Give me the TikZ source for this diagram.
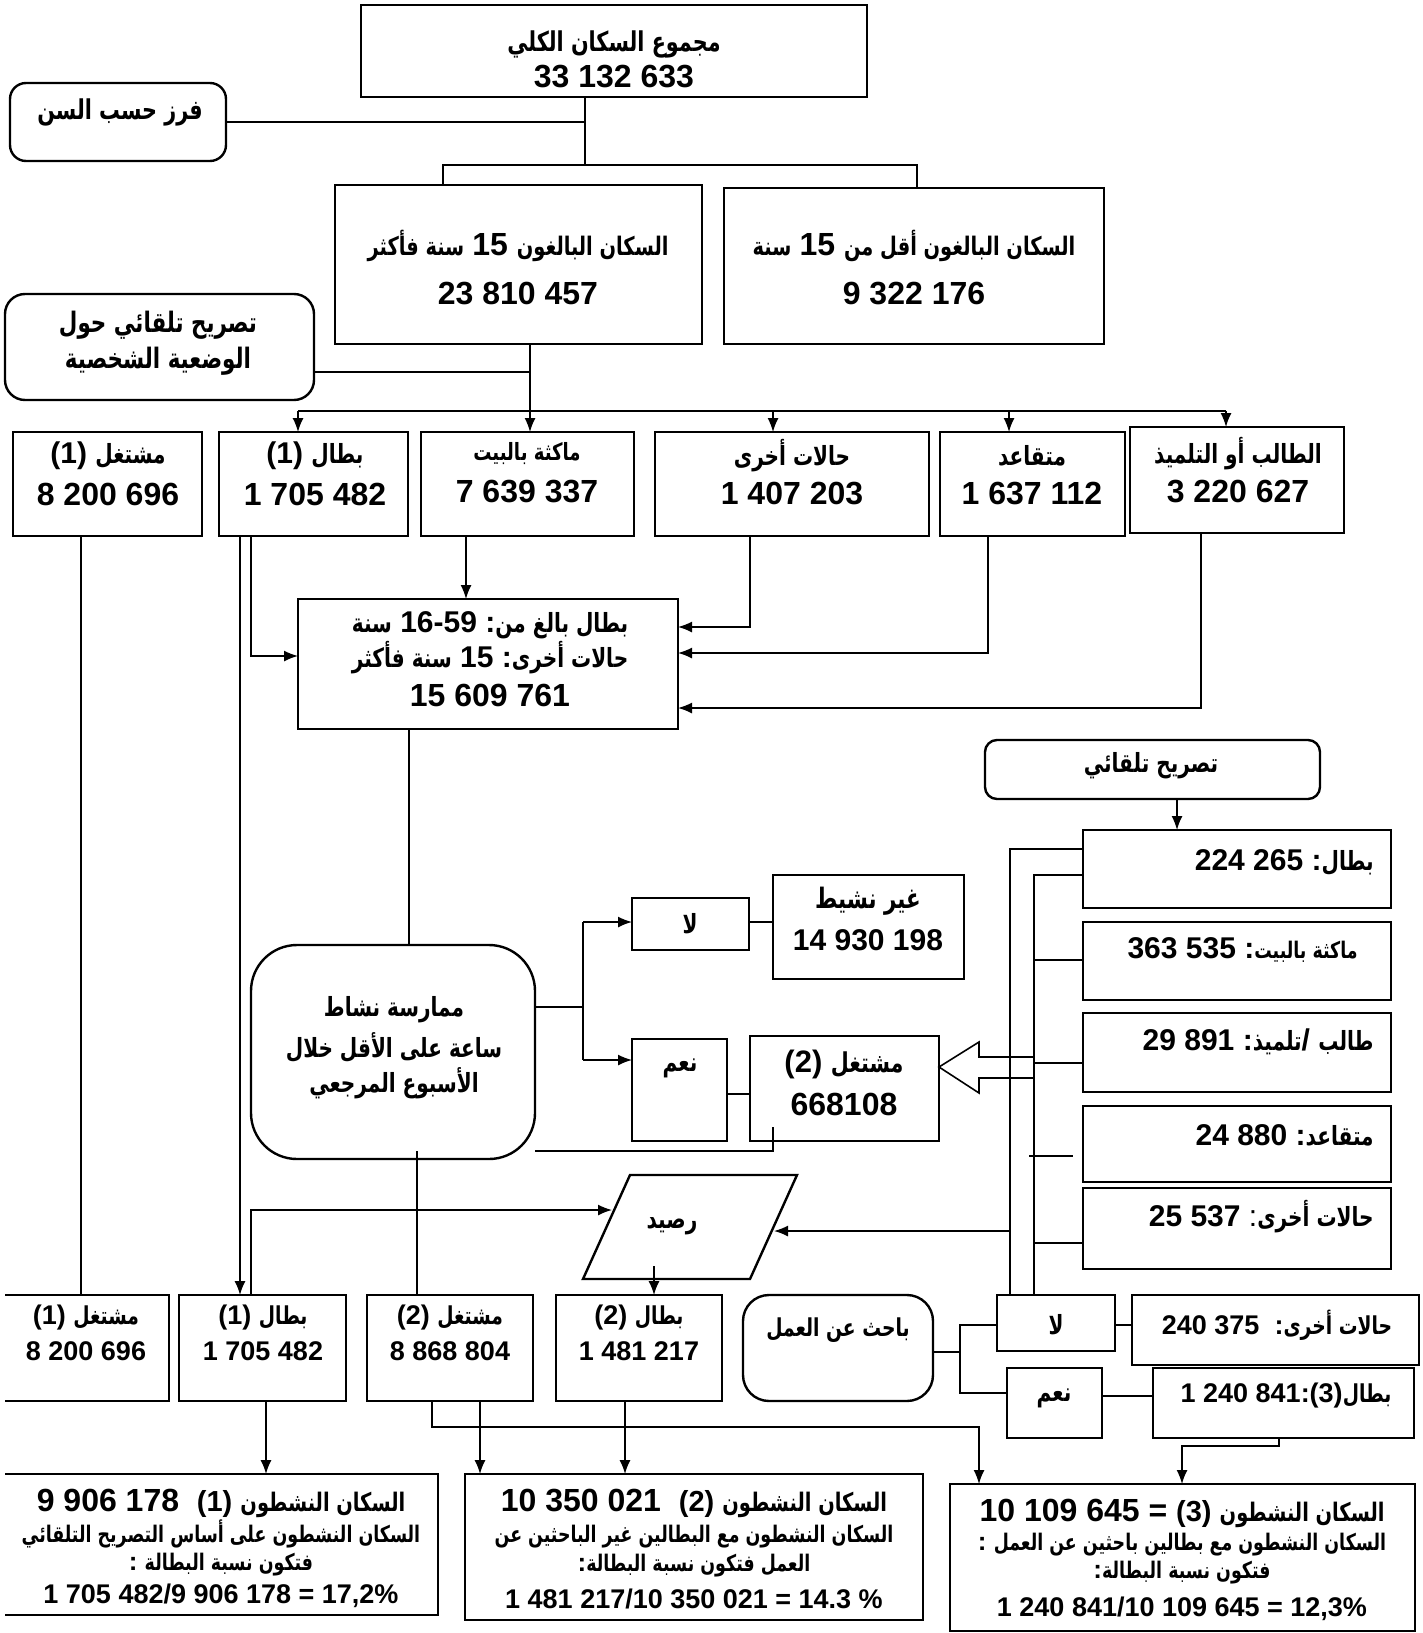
\documentclass[tikz,border=0pt]{standalone}
\usepackage{fontspec}
\setmainfont{Liberation Sans}
\newfontfamily\arf[Script=Arabic,Scale=0.88,FakeStretch=0.76]{DejaVu Sans}
\TeXXeTstate=1
\usetikzlibrary{arrows.meta,fit}
\newcommand\AR[1]{{\arf\bfseries\beginR #1\endR}}
\newcommand\fs[1]{\fontsize{#1}{#1}\selectfont}
\newcommand\mybox[6][bx]{\node[#1, fit={(#3,#4) (#5,#6)}] (#2) {};}
\tikzset{
 bx/.style={draw, line width=1.2pt, inner sep=0pt, outer sep=0pt},
 rbx/.style={bx, rounded corners=8pt},
 nb/.style={inner sep=0pt, outer sep=0pt},
 ln/.style={line width=0.75pt},
 ar/.style={ln, -{Latex[length=7pt,width=5.5pt]}},
 tx/.style={inner sep=0pt, font=\bfseries, align=center},
}
\begin{document}
\begin{tikzpicture}[x=0.5pt,y=-0.5pt]
\useasboundingbox (0,0) rectangle (1423,1633);
% ---------- boxes
\mybox{top}{361}{5}{867}{97}
\mybox[rbx]{fr}{10}{83}{226}{161}
\mybox{a15}{335}{185}{702}{344}
\mybox{b15}{724}{188}{1104}{344}
\mybox[bx,rounded corners=10pt]{decl}{5}{294}{314}{400}
\mybox{occ1}{13}{432}{202}{536}
\mybox{une1}{219}{432}{408}{536}
\mybox{home}{421}{432}{634}{536}
\mybox{oth}{655}{432}{929}{536}
\mybox{ret}{940}{432}{1125}{536}
\mybox{stu}{1130}{427}{1344}{533}
\mybox{mid}{298}{599}{678}{729}
\mybox[bx,rounded corners=23pt]{act}{251}{945}{535}{1159}
\mybox{no1}{632}{898}{749}{950}
\mybox{inact}{773}{875}{964}{979}
\mybox{yes1}{632}{1039}{727}{1141}
\mybox{occ2}{750}{1036}{939}{1141}
\mybox[bx,rounded corners=6pt]{auto}{985}{740}{1320}{799}
\mybox{c1}{1083}{830}{1391}{908}
\mybox{c2}{1083}{922}{1391}{1000}
\mybox{c3}{1083}{1013}{1391}{1092}
\mybox{c4}{1083}{1106}{1391}{1182}
\mybox{c5}{1083}{1188}{1391}{1269}
\mybox[nb]{bo1}{5}{1295}{169}{1401}
\draw[line width=1.2pt] (bo1.north west) -- (bo1.north east) -- (bo1.south east) -- (bo1.south west);
\mybox{bu1}{179}{1295}{346}{1401}
\mybox{bo2}{367}{1295}{533}{1401}
\mybox{bu2}{556}{1295}{722}{1401}
\mybox[bx,rounded corners=13pt]{seek}{743}{1295}{933}{1401}
\mybox{no2}{997}{1295}{1115}{1351}
\mybox{oth2}{1132}{1295}{1419}{1365}
\mybox{yes2}{1007}{1368}{1102}{1438}
\mybox{une3}{1153}{1368}{1414}{1438}
\mybox[nb]{res1}{5}{1474}{438}{1615}
\draw[line width=1.2pt] (res1.north west) -- (res1.north east) -- (res1.south east) -- (res1.south west);
\mybox{res2}{465}{1474}{923}{1620}
\mybox{res3}{950}{1484}{1415}{1631}
% parallelogram
\draw[line width=1.2pt] (630,1175) -- (797,1175) -- (750,1279) -- (583,1279) -- cycle;
\coordinate (rsdL) at (612,1210);
\coordinate (rsdR) at (774,1231);
% ---------- texts
\node[tx] (top1) at (614,44) {\fs{15.5}\AR{مجموع السكان الكلي}};
\node[tx] (top2) at (614,77) {\fs{16}33 132 633};
\node[tx] (fr1) at (120,112) {\fs{15.5}\AR{فرز حسب السن}};
\node[tx] (a151) at (518,246) {\fs{14.5}\AR{سنة فأكثر} \fs{16}15 \fs{14.5}\AR{السكان البالغون}};
\node[tx] (a152) at (518,294) {\fs{16}23 810 457};
\node[tx] (b151) at (914,246) {\fs{14.5}\AR{سنة} \fs{16}15 \fs{14.5}\AR{السكان البالغون أقل من}};
\node[tx] (b152) at (914,294) {\fs{16}9 322 176};
\node[tx] (decl1) at (158,325) {\fs{16}\AR{تصريح تلقائي حول}};
\node[tx] (decl2) at (158,361) {\fs{16}\AR{الوضعية الشخصية}};
\node[tx] (occ1a) at (108,456) {\fs{15}(1) \fs{15}\AR{مشتغل}};
\node[tx] (occ1b) at (108,494) {\fs{16}8 200 696};
\node[tx] (une1a) at (315,456) {\fs{15}(1) \fs{15}\AR{بطال}};
\node[tx] (une1b) at (315,494) {\fs{16}1 705 482};
\node[tx] (home1) at (527,454) {\fs{13.5}\AR{ماكثة بالبيت}};
\node[tx] (home2) at (527,492) {\fs{16}7 639 337};
\node[tx] (oth1) at (792,456) {\fs{15}\AR{حالات أخرى}};
\node[tx] (oth2t) at (792,494) {\fs{16}1 407 203};
\node[tx] (ret1) at (1032,456) {\fs{15}\AR{متقاعد}};
\node[tx] (ret2) at (1032,494) {\fs{16}1 637 112};
\node[tx] (stu1) at (1238,454) {\fs{15}\AR{الطالب أو التلميذ}};
\node[tx] (stu2) at (1238,492) {\fs{16}3 220 627};
\node[tx] (mid1) at (490,625) {\fs{15}\AR{سنة} \fs{15}16-59 :\fs{15}\AR{بطال بالغ من}};
\node[tx] (mid2) at (490,658) {\fs{15}\AR{سنة فأكثر} \fs{15}15 :\fs{15}\AR{حالات أخرى}};
\node[tx] (mid3) at (490,695) {\fs{16}15 609 761};
\node[tx] (act1) at (394,1010) {\fs{15}\AR{ممارسة نشاط}};
\node[tx] (act2) at (394,1047) {\fs{15}\AR{ساعة على الأقل خلال}};
\node[tx] (act3) at (394,1083) {\fs{15}\AR{الأسبوع المرجعي}};
\node[tx] (no1t) at (690,924) {\fs{15}\AR{لا}};
\node[tx] (inact1) at (868,901) {\fs{16}\AR{غير نشيط}};
\node[tx] (inact2) at (868,940) {\fs{15}14 930 198};
\node[tx] (yes1t) at (680,1068) {\fs{15}\AR{نعم}};
\node[tx] (occ2a) at (844,1064) {\fs{15.5}(2) \fs{15.5}\AR{مشتغل}};
\node[tx] (occ2b) at (844,1104) {\fs{16}668108};
\node[tx] (auto1) at (1151,766) {\fs{15}\AR{تصريح تلقائي}};
\node[tx,anchor=east] (c1t) at (1374,862) {\fs{15}224 265 :\fs{15}\AR{بطال}};
\node[tx,anchor=east] (c2t) at (1358,950) {\fs{15}363 535 :\fs{13}\AR{ماكثة بالبيت}};
\node[tx,anchor=east] (c3t) at (1374,1042) {\fs{15}29 891 :\fs{15}\AR{تلميذ}/ \AR{طالب}};
\node[tx,anchor=east] (c4t) at (1374,1135) {\fs{15}24 880 :\fs{15}\AR{متقاعد}};
\node[tx,anchor=east] (c5t) at (1374,1217) {\fs{15}25 537 \mdseries:\bfseries\fs{15}\AR{حالات أخرى}};
\node[tx] (rsdt) at (672,1226) {\fs{15}\AR{رصيد}};
\node[tx] (bo1a) at (86,1318) {\fs{13.5}(1) \fs{14}\AR{مشتغل}};
\node[tx] (bo1b) at (86,1351) {\fs{13.5}8 200 696};
\node[tx] (bu1a) at (263,1318) {\fs{13.5}(1) \fs{14}\AR{بطال}};
\node[tx] (bu1b) at (263,1351) {\fs{13.5}1 705 482};
\node[tx] (bo2a) at (450,1318) {\fs{13.5}(2) \fs{14}\AR{مشتغل}};
\node[tx] (bo2b) at (450,1351) {\fs{13.5}8 868 804};
\node[tx] (bu2a) at (639,1318) {\fs{13.5}(2) \fs{14}\AR{بطال}};
\node[tx] (bu2b) at (639,1351) {\fs{13.5}1 481 217};
\node[tx] (seek1) at (838,1330) {\fs{14}\AR{باحث عن العمل}};
\node[tx] (no2t) at (1056,1325) {\fs{15}\AR{لا}};
\node[tx] (oth2a) at (1277,1325) {\fs{13.5}240 375\ \ :\fs{14}\AR{حالات أخرى}};
\node[tx] (yes2t) at (1054,1398) {\fs{15}\AR{نعم}};
\node[tx] (une3a) at (1286,1396) {\fs{13.5}1 240 841:(3)\fs{14}\AR{بطال}};
\node[tx] (res1a) at (221,1503) {\fs{16}9 906 178\ \ \fs{14.5}(1) \AR{السكان النشطون}};
\node[tx] (res1b) at (221,1534) {\fs{13}\AR{السكان النشطون على أساس التصريح التلقائي}};
\node[tx] (res1c) at (221,1565) {\fs{13}:\ \AR{فتكون نسبة البطالة}};
\node[tx] (res1d) at (221,1596) {\fs{13.5}1 705 482/9 906 178 = 17,2\%};
\node[tx] (res2a) at (694,1503) {\fs{16}10 350 021\ \ \fs{14.5}(2) \AR{السكان النشطون}};
\node[tx] (res2b) at (694,1537) {\fs{13}\AR{السكان النشطون مع البطالين غير الباحثين عن}};
\node[tx] (res2c) at (694,1566) {\fs{13}:\AR{العمل فتكون نسبة البطالة}};
\node[tx] (res2d) at (694,1599) {\fs{13.5}1 481 217/10 350 021 = 14.3 \%};
\node[tx] (res3a) at (1182,1513) {\fs{16}10 109 645 = \fs{14.5}(3) \AR{السكان النشطون}};
\node[tx] (res3b) at (1182,1545) {\fs{13}:\ \AR{السكان النشطون مع بطالين باحثين عن العمل}};
\node[tx] (res3c) at (1182,1573) {\fs{13}:\AR{فتكون نسبة البطالة}};
\node[tx] (res3d) at (1182,1609) {\fs{13.5}1 240 841/10 109 645 = 12,3\%};
% ---------- connectors
\coordinate (j1) at (585,165);
\coordinate (j1a) at (443,165);
\coordinate (j1b) at (917,165);
\draw[ln] (top.south -| j1) -- (j1);
\draw[ln] (fr.east) -- (fr.east -| j1);
\draw[ln] (a15.north -| j1a) -- (j1a) -- (j1b) -- (b15.north -| j1b);
\coordinate (j2) at (530,411);
\coordinate (j2d) at (530,372);
\coordinate (h2a) at (298,411);
\coordinate (h2b) at (1226,411);
\coordinate (h2c) at (773,411);
\coordinate (h2d) at (1009,411);
\draw[ln] (a15.south -| j2) -- (j2);
\draw[ln] (decl.east |- j2d) -- (j2d);
\draw[ln] (h2a) -- (h2b);
\draw[ar] (h2a) -- (une1.north -| h2a);
\draw[ar] (j2) -- (home.north -| j2);
\draw[ar] (h2c) -- (oth.north -| h2c);
\draw[ar] (h2d) -- (ret.north -| h2d);
\draw[ar] (h2b) -- (stu.north -| h2b);
% into middle box
\coordinate (m1) at (466,0);
\coordinate (m2) at (750,627);
\coordinate (m3) at (988,653);
\coordinate (m4) at (1201,708);
\coordinate (m5) at (251,656);
\coordinate (m6) at (240,0);
\coordinate (m7) at (81,0);
\coordinate (m8) at (409,0);
\draw[ar] (home.south -| m1) -- (mid.north -| m1);
\draw[ar] (oth.south -| m2) -- (m2) -- (mid.east |- m2);
\draw[ar] (ret.south -| m3) -- (m3) -- (mid.east |- m3);
\draw[ar] (stu.south -| m4) -- (m4) -- (mid.east |- m4);
\draw[ar] (une1.south -| m5) -- (m5) -- (mid.west |- m5);
\draw[ar] (une1.south -| m6) -- (bu1.north -| m6);
\draw[ln] (occ1.south -| m7) -- (bo1.north -| m7);
\draw[ln] (mid.south -| m8) -- (act.north -| m8);
% activity branches
\coordinate (k1) at (583,1007);
\coordinate (k2) at (583,922);
\coordinate (k3) at (583,1060);
\coordinate (k4) at (740,1094);
\draw[ln] (act.east |- k1) -- (k1);
\draw[ln] (k2) -- (k3);
\draw[ar] (k2) -- (no1.west |- k2);
\draw[ar] (k3) -- (yes1.west |- k3);
\draw[ln] (no1.east |- k2) -- (inact.west |- k2);
\draw[ln] (yes1.east |- k4) -- (occ2.west |- k4);
\coordinate (k5) at (773,1151);
\coordinate (k6) at (773,1127);
\coordinate (k7) at (417,1151);
\draw[ln] (k6) -- (k5) -- (act.east |- k5);
\draw[ln] (k7) -- (bo2.north -| k7);
% hollow arrow
\draw[line width=0.8pt, fill=white] (1034,1057) -- (979,1057) -- (979,1042) -- (occ2.east |- 0,1067) -- (979,1093) -- (979,1078) -- (1034,1078);
% spontaneous declaration
\coordinate (q1) at (1177,0);
\draw[ar] (auto.south -| q1) -- (c1.north -| q1);
\coordinate (v1) at (1010,849);
\coordinate (v2) at (1034,875);
\coordinate (v3) at (1034,960);
\coordinate (v4) at (1034,1063);
\coordinate (v5) at (1029,1156);
\coordinate (v6) at (1034,1243);
\coordinate (v7) at (1010,1231);
\draw[ln] (c1.west |- v1) -- (v1) -- (no2.north -| v1);
\draw[ln] (c1.west |- v2) -- (v2) -- (no2.north -| v2);
\draw[ln] (c2.west |- v3) -- (v3);
\draw[ln] (c3.west |- v4) -- (v4);
\draw[ln] (v5) -- (1073,1156);
\draw[ln] (c5.west |- v6) -- (v6);
\draw[ar] (v7) -- (rsdR);
\coordinate (w1) at (251,1210);
\coordinate (w2) at (654,1266);
\draw[ar] (bu1.north -| w1) -- (w1) -- (rsdL);
\draw[ar] (w2) -- (bu2.north -| w2);
% job seeker
\coordinate (z1) at (960,1352);
\coordinate (z2) at (960,1325);
\coordinate (z3) at (960,1393);
\coordinate (z4) at (1130,1396);
\draw[ln] (seek.east |- z1) -- (z1);
\draw[ln] (no2.west |- z2) -- (z2) -- (z3) -- (yes2.west |- z3);
\draw[ln] (no2.east |- z2) -- (oth2.west |- z2);
\draw[ln] (yes2.east |- z4) -- (une3.west |- z4);
% results
\coordinate (p1) at (266,0);
\coordinate (p2) at (432,1427);
\coordinate (p3) at (979,1427);
\coordinate (p4) at (480,0);
\coordinate (p5) at (625,0);
\coordinate (p6) at (1279,1446);
\coordinate (p7) at (1182,1446);
\draw[ar] (bu1.south -| p1) -- (res1.north -| p1);
\draw[ar] (bo2.south -| p2) -- (p2) -- (p3) -- (res3.north -| p3);
\draw[ar] (bo2.south -| p4) -- (res2.north -| p4);
\draw[ar] (bu2.south -| p5) -- (res2.north -| p5);
\draw[ar] (une3.south -| p6) -- (p6) -- (p7) -- (res3.north -| p7);
\end{tikzpicture}
\end{document}
